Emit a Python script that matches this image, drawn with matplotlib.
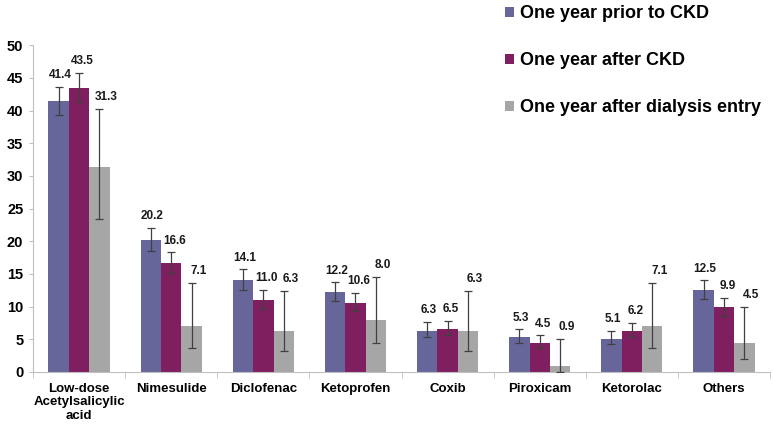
import matplotlib
matplotlib.use("Agg")
import matplotlib.pyplot as plt
import numpy as np

plt.rcParams["font.family"] = ["Liberation Sans", "DejaVu Sans"]

CATEGORIES = [
    "Low-dose\nAcetylsalicylic\nacid", "Nimesulide", "Diclofenac", "Ketoprofen",
    "Coxib", "Piroxicam", "Ketorolac", "Others",
]
SERIES = [
    "One year prior to CKD",
    "One year after CKD",
    "One year after dialysis entry",
]

PRIOR_CKD = [41.4, 20.2, 14.1, 12.2, 6.3, 5.3, 5.1, 12.5]
PRIOR_LO  = [39.3, 18.5, 12.6, 10.8, 5.4, 4.5, 4.3, 11.2]
PRIOR_HI  = [43.6, 22.1, 15.7, 13.7, 7.6, 6.5, 6.3, 14.0]

AFTER_CKD = [43.5, 16.6, 11.0, 10.6, 6.5, 4.5, 6.2, 9.9]
AFTER_LO  = [41.3, 15.1, 9.7, 9.3, 5.6, 3.7, 5.3, 8.6]
AFTER_HI  = [45.8, 18.3, 12.5, 12.1, 7.8, 5.6, 7.5, 11.3]

DIALYSIS    = [31.3, 7.1, 6.3, 8.0, 6.3, 0.9, 7.1, 4.5]
DIALYSIS_LO = [23.4, 3.7, 3.2, 4.4, 3.2, 0.0, 3.7, 2.0]
DIALYSIS_HI = [40.3, 13.6, 12.4, 14.6, 12.4, 5.0, 13.6, 10.0]

COLOURS = ["#66669A", "#7F1F5F", "#A6A6A6"]


def main() -> None:
    fig = plt.figure(figsize=(7.75, 4.26), dpi=100)
    ax = fig.add_axes([0.0426, 0.1268, 0.951, 0.7672])

    x = np.arange(len(CATEGORIES))
    width = 0.2215
    groups = [
        (PRIOR_CKD, PRIOR_LO, PRIOR_HI, -width, 1.0),
        (AFTER_CKD, AFTER_LO, AFTER_HI, 0.0, 2.5),
        (DIALYSIS, DIALYSIS_LO, DIALYSIS_HI, width, 5.0),
    ]

    for (vals, lo, hi, off, dx), col, name in zip(groups, COLOURS, SERIES):
        vals = np.array(vals)
        lo = np.array(lo)
        hi = np.array(hi)
        ax.bar(x + off, vals, width=width, color=col, label=name, zorder=2)
        ax.errorbar(x + off, vals, yerr=[vals - lo, hi - vals], fmt="none",
                    ecolor="#404040", elinewidth=0.9, capsize=2.6,
                    capthick=0.9, zorder=3)
        for xi, v, h in zip(x + off, vals, hi):
            ax.annotate(f"{v:.1f}", xy=(xi, h), xytext=(dx, 8.5),
                        textcoords="offset points", ha="center", va="center",
                        fontsize=8.5, fontweight="bold", color="#1a1a1a")

    ax.set_xlim(-0.5, len(CATEGORIES) - 0.5)
    ax.set_ylim(0, 50)
    ax.set_yticks(np.arange(0, 51, 5))
    ax.tick_params(axis="y", labelsize=10.5, length=3, color="#BFBFBF", pad=4)
    for lbl in ax.get_yticklabels():
        lbl.set_fontweight("bold")

    ax.set_xticks(x)
    ax.set_xticklabels(CATEGORIES, fontsize=9.5, fontweight="bold",
                       linespacing=1.15)
    ax.tick_params(axis="x", length=0, pad=8)
    ax.set_xticks(np.arange(-0.5, len(CATEGORIES), 1.0), minor=True)
    ax.tick_params(axis="x", which="minor", length=4, color="#BFBFBF")

    for side in ("top", "right"):
        ax.spines[side].set_visible(False)
    ax.spines["left"].set_color("#BFBFBF")
    ax.spines["bottom"].set_color("#BFBFBF")

    fig.legend(loc="upper left", bbox_to_anchor=(0.631, 1.026), frameon=False,
               prop={"weight": "bold", "size": 13}, handlelength=0.5,
               handleheight=0.5, handletextpad=0.3, labelspacing=1.67)

    fig.savefig("out.png", dpi=100)
    plt.close(fig)


if __name__ == "__main__":
    main()
